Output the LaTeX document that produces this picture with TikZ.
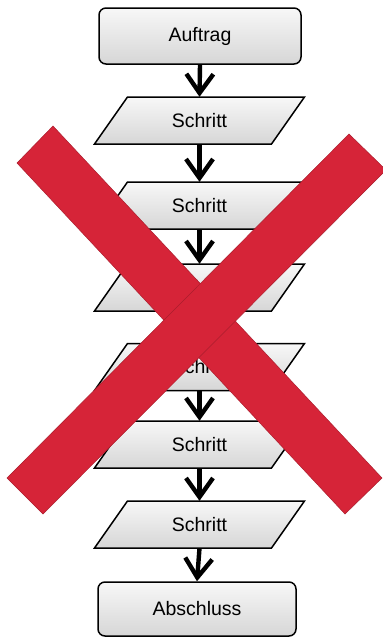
\documentclass[tikz,border=0pt]{standalone}
\usepackage{fontspec}
\setmainfont{Liberation Sans}
\usetikzlibrary{arrows.meta}
\definecolor{xred}{RGB}{214,36,56}
\tikzset{
  boxfill/.style={top color=gray!6, bottom color=gray!32, draw=black, line width=1.5pt},
  labelfont/.style={font=\fontsize{19.5}{23}\selectfont},
  termbox/.style={boxfill, rectangle, rounded corners=7pt, minimum height=56pt, inner sep=0pt, labelfont},
  paratext/.style={rectangle, minimum width=177pt, minimum height=47pt, inner sep=0pt, labelfont},
  arr/.style={line width=4.4pt, -{Straight Barb[length=19pt,width=27pt]}},
  xbar/.style={fill=xred, draw=xred!80!black, line width=0.5pt}
}
\newcommand\parastep[3]{%
  \path[boxfill] (#2-72,#3-23.5) -- (#2+105,#3-23.5) -- (#2+72,#3+23.5) -- (#2-105,#3+23.5) -- cycle;
  \node[paratext] (#1) at (#2,#3) {Schritt};}
\begin{document}
\begin{tikzpicture}[x=1pt,y=-1pt]
\clip (0,0) rectangle (383,638);
\fill[white] (0,0) rectangle (383,638);
\node[termbox, minimum width=202pt] (auf) at (200,36) {Auftrag};
\parastep{s1}{199.5}{120.5}
\parastep{s2}{199.5}{205.5}
\parastep{s3}{199.5}{287.5}
\parastep{s4}{199.5}{367}
\parastep{s5}{199.5}{444.5}
\parastep{s6}{199.5}{524.5}
\node[termbox, minimum width=198pt, minimum height=54pt] (abs) at (197,609) {Abschluss};
\draw[arr] (auf.south) -- (s1.north);
\draw[arr] (s1.south) -- (s2.north);
\draw[arr] (s2.south) -- (s3.north);
\draw[arr] (s3.south) -- (s4.north);
\draw[arr] (s4.south) -- (s5.north);
\draw[arr] (s5.south) -- (s6.north);
\draw[arr] (s6.south) -- (abs.north);
% red cross
\path[xbar] (53,126) -- (17,163) -- (345,514) -- (382,478) -- cycle;
\path[xbar] (349,134) -- (386,170) -- (43,514) -- (7,478) -- cycle;
\end{tikzpicture}
\end{document}
